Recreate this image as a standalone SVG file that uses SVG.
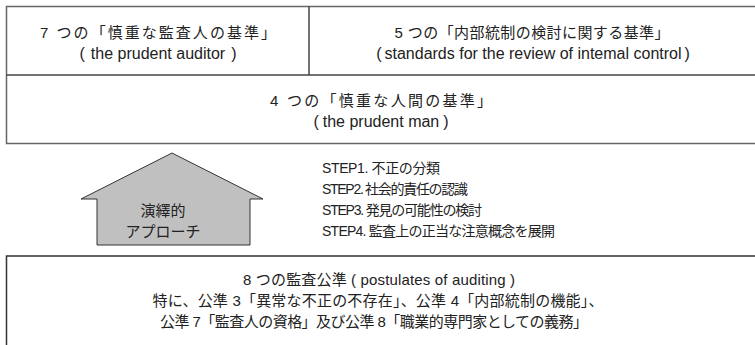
<svg xmlns="http://www.w3.org/2000/svg" width="755" height="345" viewBox="0 0 755 345">
<style>
.t{font-family:"Liberation Sans","Noto Sans CJK JP",sans-serif;font-size:15px;fill:#222;text-anchor:middle}
.e{font-family:"Liberation Sans",sans-serif;font-size:16px;fill:#222;text-anchor:middle}
.n{font-family:"Liberation Sans Narrow","Liberation Sans","Noto Sans CJK JP",sans-serif;font-size:14px;fill:#222}
.box{fill:#fff;stroke:#666;stroke-width:1.5}
</style>
<rect width="755" height="345" fill="#fff"/>
<g id="top-box">
<rect class="box" x="6.5" y="6.5" width="760" height="137"/>
<line x1="6.5" y1="75" x2="760" y2="75" stroke="#444" stroke-width="1.5"/>
<line x1="309" y1="6.5" x2="309" y2="75" stroke="#444" stroke-width="1.5"/>
</g>
<g id="prudent-auditor">
<text class="t" x="158" y="38" textLength="236">7 つの「慎重な監査人の基準」</text>
<text class="e" x="158" y="59">(<tspan dx="6">the prudent auditor</tspan><tspan dx="6">)</tspan></text>
</g>
<g id="internal-control">
<text class="t" x="532" y="38" textLength="275">5 つの「内部統制の検討に関する基準」</text>
<text class="e" x="533" y="59">(<tspan dx="3">standards for the review of intemal control</tspan><tspan dx="3">)</tspan></text>
</g>
<g id="prudent-man">
<text class="t" x="381" y="106" textLength="222">4 つの「慎重な人間の基準」</text>
<text class="e" x="381" y="127">(<tspan dx="4">the prudent man</tspan><tspan dx="4">)</tspan></text>
</g>
<g id="approach">
<polygon points="172,153 263,199 250,199 250,245 97,245 97,199 81,199" fill="#c0c0c0" stroke="#333" stroke-width="1"/>
<text class="t" x="163" y="216" font-size="14">演繹的</text>
<text class="t" x="163" y="237" font-size="14">アプローチ</text>
</g>
<g id="steps">
<text class="n" x="322" y="173" textLength="118">STEP1. 不正の分類</text>
<text class="n" x="322" y="194" textLength="146">STEP2. 社会的責任の認識</text>
<text class="n" x="322" y="215" textLength="160">STEP3. 発見の可能性の検討</text>
<text class="n" x="322" y="236" textLength="233">STEP4. 監査上の正当な注意概念を展開</text>
</g>
<g id="postulates">
<rect x="6.5" y="256" width="760" height="100" fill="#fff" stroke="#333" stroke-width="1.5"/>
<text class="t" x="379" y="285" textLength="272">8 つの監査公準 ( postulates of auditing )</text>
<text class="t" x="378" y="306" textLength="451">特に、公準 3「異常な不正の不存在」、公準 4「内部統制の機能」、</text>
<text class="t" x="374" y="327" textLength="428">公準 7「監査人の資格」及び公準 8「職業的専門家としての義務」</text>
</g>
<g id="connectors"></g>
</svg>
